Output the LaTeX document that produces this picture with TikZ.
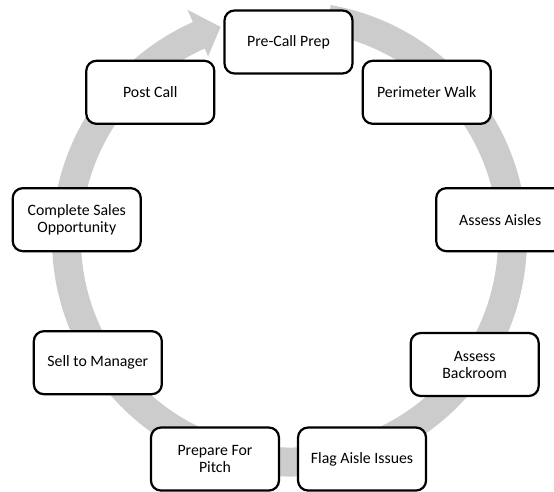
\documentclass[tikz,border=0pt]{standalone}
\usepackage{fontspec}
\setmainfont{Carlito}
\usepackage{tikz}

\definecolor{ringgray}{RGB}{204,204,204}
\tikzset{
  stagebox/.style={draw, fill=white, line width=1.9pt, rounded corners=0.3cm,
    minimum width=3.84cm, minimum height=1.89cm, align=center,
    font=\fontsize{13.5}{14.5}\selectfont}
}

\begin{document}
\begin{tikzpicture}[x=0.03cm, y=0.03cm]
\useasboundingbox (0,0) rectangle (554,491);
\clip (0,0) rectangle (554,491);
% the cycle arrow
\fill[ringgray, shift={(289.5,252)}] (80:208.5) -- (80:237.5)
  arc[start angle=80, end angle=-246, radius=237.5] -- (-246:251)
  -- (-252:223) -- (-246:200) -- (-246:208.5)
  arc[start angle=-246, end angle=80, radius=208.5] -- cycle;
\coordinate (O) at (288.5,234);
% the stages
\node[stagebox] (precall) at ([shift={(90:215)}]O) {Pre-Call Prep};
\node[stagebox] (perimeter) at ([shift={(50:215)}]O) {Perimeter Walk};
\node[stagebox] (aisles) at ([shift={(10:215)}]O) {Assess Aisles};
\node[stagebox] (backroom) at ([shift={(-30:215)}]O) {Assess\\Backroom};
\node[stagebox] (flag) at ([shift={(-70:215)}]O) {Flag Aisle Issues};
\node[stagebox] (prepare) at ([shift={(-110:215)}]O) {Prepare For\\Pitch};
\node[stagebox] (sell) at ([shift={(-151:218)}]O) {Sell to Manager};
\node[stagebox] (complete) at ([shift={(170:215)}]O) {Complete Sales\\Opportunity};
\node[stagebox] (postcall) at ([shift={(130:215)}]O) {Post Call};
\end{tikzpicture}
\end{document}
